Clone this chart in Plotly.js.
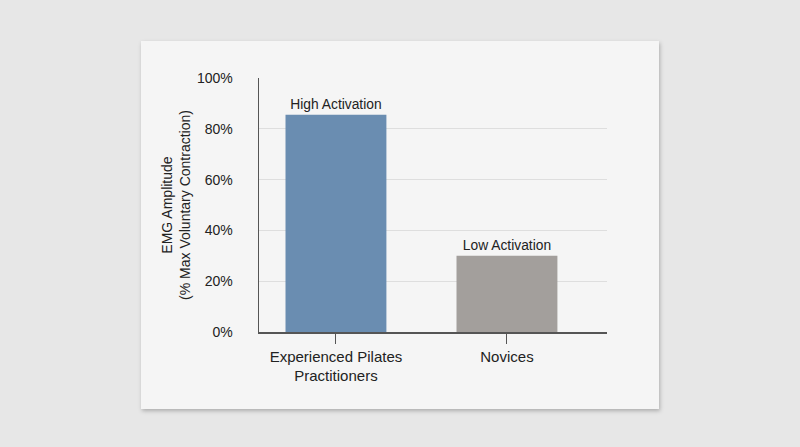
<!DOCTYPE html>
<html>
<head>
<meta charset="utf-8">
<script src="https://cdn.plot.ly/plotly-3.0.1.min.js"></script>
<style>
  html, body { margin: 0; padding: 0; }
  body { width: 800px; height: 447px; background: #e7e7e7; position: relative; overflow: hidden; }
  #card {
    position: absolute; left: 141px; top: 41px; width: 518px; height: 368px;
    background: #f5f5f5; box-shadow: 1px 2px 4px rgba(0,0,0,0.25);
  }
  #chart { position: absolute; left: 0; top: 0; width: 800px; height: 447px; }
</style>
</head>
<body>
<div id="card"></div>
<div id="chart"></div>
<script>
var groups = ['Experienced Pilates<br>Practitioners', 'Novices'];
var emgValues = [85.5, 30];
var barLabels = ['High Activation', 'Low Activation'];
var barColors = ['#6a8db1', '#a39f9c'];
var yTickVals = [0, 20, 40, 60, 80, 100];
var yTickText = ['0%', '20%', '40%', '60%', '80%', '100%'];

var data = [{
  type: 'bar',
  x: groups,
  y: emgValues,
  text: barLabels,
  textposition: 'outside',
  cliponaxis: false,
  textfont: {size: 13.8, color: '#222'},
  width: 0.59,
  marker: {color: barColors},
  hoverinfo: 'none'
}];

var layout = {
  width: 800,
  height: 447,
  margin: {l: 259, r: 193, t: 78, b: 115},
  paper_bgcolor: 'rgba(0,0,0,0)',
  plot_bgcolor: 'rgba(0,0,0,0)',
  font: {family: '"Liberation Sans", Arial, sans-serif', color: '#222'},
  showlegend: false,
  xaxis: {
    range: [-0.45, 1.585],
    showline: true,
    linecolor: '#555',
    linewidth: 1.5,
    ticks: 'outside',
    ticklen: 10,
    tickcolor: '#555',
    tickfont: {size: 15, color: '#222'},
    showgrid: false
  },
  yaxis: {
    range: [0, 100],
    tickmode: 'array',
    tickvals: yTickVals,
    ticktext: yTickText,
    showline: true,
    linecolor: '#555',
    linewidth: 1.5,
    gridcolor: '#dedede',
    zeroline: false,
    tickfont: {size: 14, color: '#222'},
    ticks: 'outside',
    ticklen: 22,
    tickcolor: 'rgba(0,0,0,0)',
    title: {
      text: 'EMG Amplitude<br>(% Max Voluntary Contraction)',
      font: {size: 14, color: '#222'},
      standoff: 3
    }
  }
};

Plotly.newPlot('chart', data, layout, {displayModeBar: false, staticPlot: true});
</script>
</body>
</html>
